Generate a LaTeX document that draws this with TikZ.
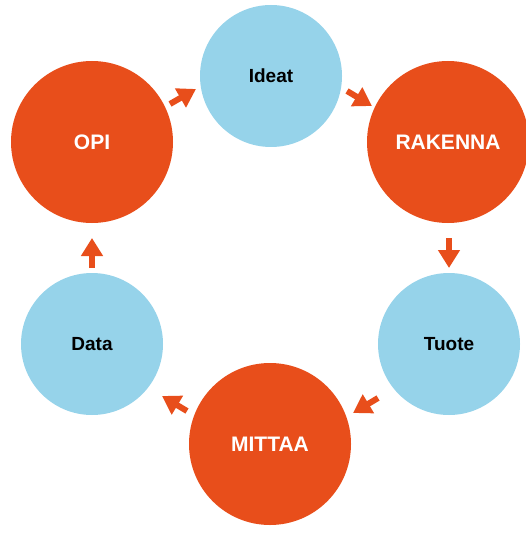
\documentclass[tikz,border=0pt]{standalone}
\usepackage{fontspec}
\setmainfont{Liberation Sans}
\usetikzlibrary{arrows.meta}
\definecolor{cyorange}{RGB}{232,78,27}
\definecolor{cyblue}{RGB}{150,211,234}
\tikzset{
  bigcirc/.style={circle, fill=cyorange, minimum size=162pt, inner sep=0pt, text=white, font=\bfseries\fontsize{21}{25}\selectfont},
  smallcirc/.style={circle, fill=cyblue, minimum size=142pt, inner sep=0pt, text=black, font=\bfseries\fontsize{19}{23}\selectfont},
  flowarrow/.style={draw=cyorange, line width=6pt, -{Triangle[width=21pt,length=18pt]}, color=cyorange}
}
\begin{document}
\begin{tikzpicture}[x=1pt,y=-1pt]
\useasboundingbox (0,0) rectangle (525,537);
\node[smallcirc] (ideat) at (271,76) {Ideat};
\node[bigcirc] (opi) at (92,142) {OPI};
\node[bigcirc] (rakenna) at (448,142) {RAKENNA};
\node[smallcirc] (tuote) at (449,344) {Tuote};
\node[smallcirc] (data) at (92,344) {Data};
\node[bigcirc] (mittaa) at (270,444) {MITTAA};
% arrow end points
\coordinate (a1s) at (170,104); \coordinate (a1e) at (196,89);
\coordinate (a2s) at (347,91); \coordinate (a2e) at (372,106);
\coordinate (a3s) at (449,238); \coordinate (a3e) at (449,268);
\coordinate (a4s) at (378,398); \coordinate (a4e) at (353,413);
\coordinate (a5s) at (187,411); \coordinate (a5e) at (162,396);
\coordinate (a6s) at (92,268); \coordinate (a6e) at (92,238);
\draw[flowarrow] (a1s) -- (a1e);
\draw[flowarrow] (a2s) -- (a2e);
\draw[flowarrow] (a3s) -- (a3e);
\draw[flowarrow] (a4s) -- (a4e);
\draw[flowarrow] (a5s) -- (a5e);
\draw[flowarrow] (a6s) -- (a6e);
\end{tikzpicture}
\end{document}
